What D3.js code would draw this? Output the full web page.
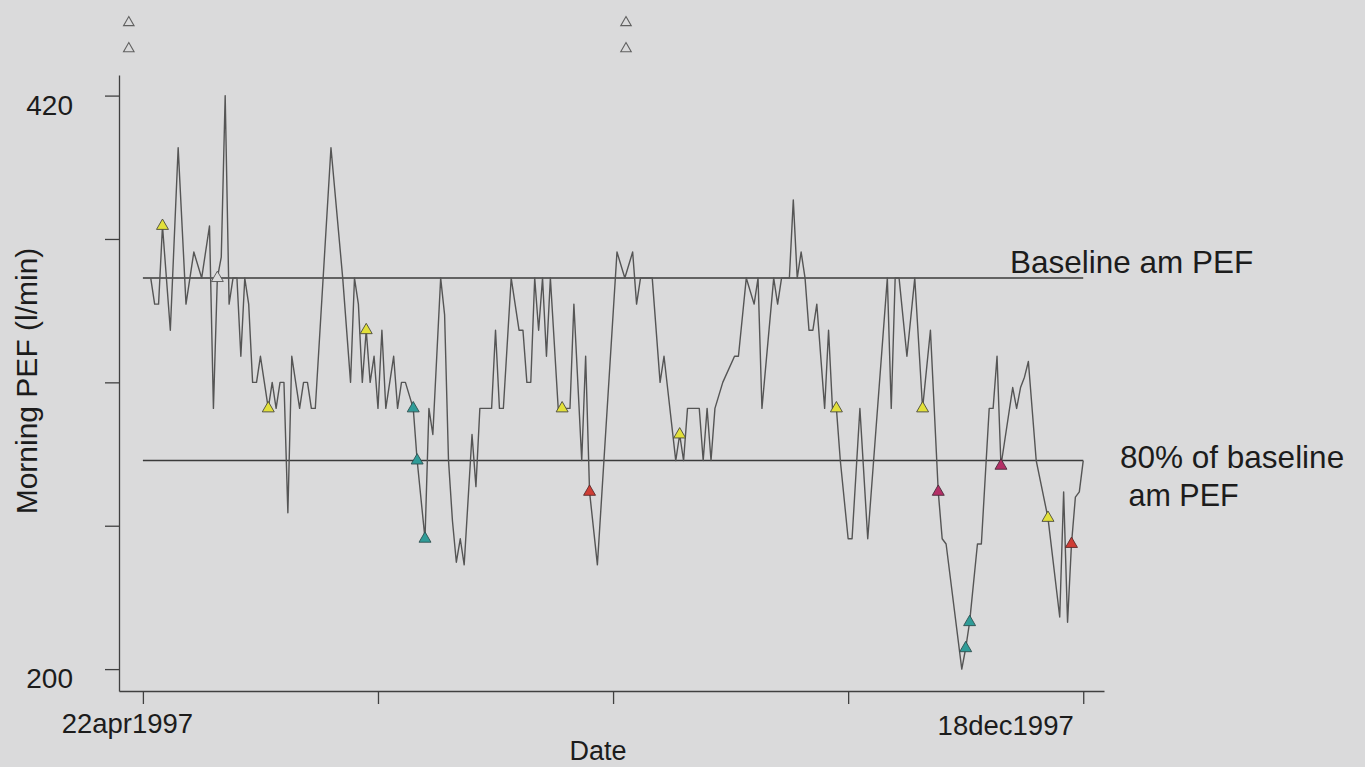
<!DOCTYPE html>
<html>
<head>
<meta charset="utf-8">
<script src="https://cdn.jsdelivr.net/npm/d3@7"></script>
<style>
  html, body { margin: 0; padding: 0; background: #dadadb; }
  svg { display: block; }
  text { font-family: "Liberation Sans", Arial, Helvetica, sans-serif; fill: #1c1c1c; }
</style>
</head>
<body>
<svg id="chart" width="1365" height="767"></svg>
<script>
// ---------- data (days after 22apr1997, morning PEF in l/min) ----------
const startDate = new Date(Date.UTC(1997, 3, 22));
const dayOffsets = [2,3,4,5,7,9,11,13,15,17,18,19,20,21,22,23,24,25,26,27,28,29,30,31,32,33,34,35,36,37,38,39,40,41,42,43,44,48,51,53,54,55,56,57,58,59,60,61,62,64,65,66,67,69,70,72,73,74,76,77,78,79,80,81,82,84,85,86,89,90,91,92,94,96,97,98,99,100,101,102,103,104,106,107,109,110,112,113,114,116,121,123,125,126,127,130,132,133,136,137,138,139,142,143,144,145,146,148,151,152,154,156,157,158,161,162,163,165,166,167,168,169,170,171,172,174,175,176,177,178,180,181,183,185,190,191,192,193,195,197,199,201,203,204,205,209,210,211,213,214,216,217,218,219,222,223,224,225,226,228,231,234,235,236,237,238,239,240];
const pefValues = [350,340,340,370,330,400,340,360,350,370,300,350,358,420,340,350,350,320,350,340,310,310,320,310,300,310,300,310,310,260,320,310,300,310,310,300,300,400,350,310,350,340,310,330,310,320,300,330,300,320,300,310,310,300,280,250,300,290,350,336,280,257,241,250,240,290,270,300,300,330,300,300,350,330,330,310,310,350,330,350,320,350,300,300,300,340,280,320,268,240,360,350,360,340,350,350,310,320,280,290,280,300,300,280,300,280,300,310,320,320,350,340,350,300,350,340,350,350,380,350,360,350,330,330,340,300,330,300,300,280,250,250,300,250,350,300,350,350,320,350,300,330,268,250,248,200,208,218,248,248,300,300,320,278,308,300,308,312,318,280,258,220,268,218,248,266,268,280];

// event markers on the series
const markerDays   = [5,32,57,107,137,177,199,231, 19, 69,70,72,210,211, 114,237, 203,219];
const markerValues = [370,300,330,300,290,300,300,258, 350, 300,280,250,208,218, 268,248, 268,278];
const markerKinds  = ["yellow","yellow","yellow","yellow","yellow","yellow","yellow","yellow","open","teal","teal","teal","teal","teal","red","red","magenta","magenta"];

// hollow markers drawn above the plot region
const topMarkerDays   = [-3.6, -3.6, 123.3, 123.3];
const topMarkerValues = [448, 438, 448, 438];

const baselinePEF = 350;
const baselineFraction = 0.8;
const yTickValues = [200, 255, 310, 365, 420];
const yTickLabels = {200: "200", 420: "420"};
const xTickDays = [0, 60, 120, 180, 240];
const xLabelDays = [0, 240];

// ---------- layout ----------
const svg = d3.select("#chart");
svg.append("rect").attr("width", 1365).attr("height", 767).attr("fill", "#dadadb");

const x = d3.scaleLinear().domain([-6.1, 245.3]).range([119, 1104]);
const y = d3.scaleLinear().domain([191.6, 427.9]).range([691, 75]);

const fmt = d => d3.utcFormat("%d%b%Y")(d3.utcDay.offset(startDate, d)).toLowerCase();

// y axis
const yAxis = d3.axisLeft(y)
  .tickValues(yTickValues)
  .tickSize(14).tickSizeOuter(0).tickPadding(32)
  .tickFormat(v => yTickLabels[v] || "");
const gy = svg.append("g").attr("transform", "translate(119,0)").call(yAxis);
gy.selectAll("path, line").attr("stroke", "#404040").attr("stroke-width", 1.3);
gy.selectAll("text").attr("dy", null).attr("y", 18.5)
  .style("font-size", "28px").style("fill", "#1c1c1c")
  .style("font-family", "'Liberation Sans', Arial, sans-serif");

// x axis
const xAxis = d3.axisBottom(x)
  .tickValues(xTickDays)
  .tickSize(13).tickSizeOuter(0)
  .tickFormat(d => xLabelDays.includes(d) ? fmt(d) : "");
const gx = svg.append("g").attr("transform", "translate(0,691)").call(xAxis);
gx.selectAll("path, line").attr("stroke", "#404040").attr("stroke-width", 1.3);
gx.selectAll("text")
  .attr("dy", null)
  .attr("y", d => d === 0 ? 42 : 44)
  .attr("dx", d => d === 0 ? -16 : -10)
  .attr("text-anchor", d => d === 0 ? "middle" : "end")
  .style("font-size", "27.5px").style("fill", "#1c1c1c")
  .style("font-family", "'Liberation Sans', Arial, sans-serif");

// reference lines
const refLevels = [baselinePEF, baselinePEF * baselineFraction];
svg.selectAll("line.ref").data(refLevels).enter().append("line")
  .attr("class", "ref")
  .attr("x1", x(0)).attr("x2", x(240))
  .attr("y1", d => y(d)).attr("y2", d => y(d))
  .attr("stroke", "#3a3a3a").attr("stroke-width", 1.5);

// series line
const series = dayOffsets.map((d, i) => ({day: d, value: pefValues[i]}));
const line = d3.line().x(d => x(d.day)).y(d => y(d.value));
svg.append("path").datum(series)
  .attr("d", line)
  .attr("fill", "none")
  .attr("stroke", "#555555")
  .attr("stroke-width", 1.4)
  .attr("stroke-linejoin", "round");

// markers
const kindFill = {yellow: "#e2e03a", teal: "#2f9c98", red: "#cf3d35", magenta: "#b42f66", open: "#dcdcdc"};
const kindStroke = {yellow: "#4a4a3a", teal: "#2f4f4f", red: "#5a2a2a", magenta: "#4a2a3a", open: "#555555"};
const tri = d3.symbol().type(d3.symbolTriangle).size(62);
const markers = markerDays.map((d, i) => ({day: d, value: markerValues[i], kind: markerKinds[i]}));
svg.selectAll("path.mk").data(markers).enter().append("path")
  .attr("class", "mk")
  .attr("d", tri)
  .attr("transform", d => `translate(${x(d.day)},${y(d.value)})`)
  .attr("fill", d => kindFill[d.kind])
  .attr("stroke", d => kindStroke[d.kind])
  .attr("stroke-width", 0.9);

const topMarkers = topMarkerDays.map((d, i) => ({day: d, value: topMarkerValues[i]}));
svg.selectAll("path.tmk").data(topMarkers).enter().append("path")
  .attr("class", "tmk")
  .attr("d", d3.symbol().type(d3.symbolTriangle).size(48))
  .attr("transform", d => `translate(${x(d.day)},${y(d.value)})`)
  .attr("fill", "none")
  .attr("stroke", "#606060")
  .attr("stroke-width", 1.1);

// titles and annotations
svg.append("text")
  .attr("transform", "translate(37,381) rotate(-90)")
  .attr("text-anchor", "middle")
  .style("font-size", "30px")
  .text("Morning PEF (l/min)");

svg.append("text")
  .attr("x", 598).attr("y", 760)
  .attr("text-anchor", "middle")
  .style("font-size", "27px")
  .text("Date");

svg.append("text")
  .attr("x", 1010).attr("y", 273)
  .style("font-size", "31.5px")
  .text("Baseline am PEF");

svg.append("text")
  .attr("x", 1120).attr("y", 468)
  .style("font-size", "31.5px")
  .text("80% of baseline");

svg.append("text")
  .attr("x", 1120).attr("y", 506)
  .attr("xml:space", "preserve")
  .style("font-size", "30.5px")
  .text(" am PEF");
</script>
</body>
</html>
